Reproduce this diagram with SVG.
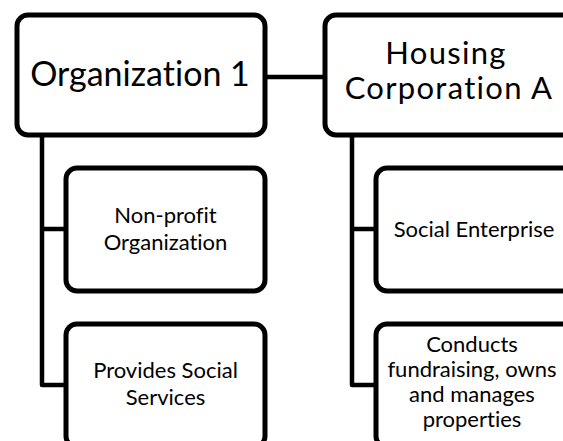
<svg xmlns="http://www.w3.org/2000/svg" width="563" height="441" viewBox="0 0 563 441">
<style>
.box{fill:#fff;stroke:#000;stroke-width:5}
.con{fill:none;stroke:#000;stroke-width:4.5;stroke-linejoin:round}
text{font-family:Lato,"Open Sans",sans-serif;fill:#000;text-anchor:middle;font-variant-ligatures:none}
.t1{font-size:34px}
.t1b{font-size:31px;letter-spacing:1.3px}
.t2{font-size:22px}
</style>
<rect width="563" height="441" fill="#fff"/>
<g id="connectors">
<path class="con" d="M265,77 H325"/>
<path class="con" d="M42,135 V385 H66 M42,229 H66"/>
<path class="con" d="M352,135 V385 H376 M352,229 H376"/>
</g>
<g id="org1">
<rect class="box" x="17" y="15" width="248" height="120" rx="11"/>
<text class="t1" x="140" y="86">Organization 1</text>
</g>
<g id="housingA">
<rect class="box" x="325" y="15" width="248" height="120" rx="11"/>
<text class="t1b"><tspan x="446" y="64">Housing</tspan><tspan x="449" y="99">Corporation A</tspan></text>
</g>
<g id="nonprofit">
<rect class="box" x="66" y="168" width="199" height="123" rx="11"/>
<text class="t2"><tspan x="165.5" y="223">Non-profit</tspan><tspan x="165.5" y="250">Organization</tspan></text>
</g>
<g id="services">
<rect class="box" x="66" y="324" width="199" height="123" rx="11"/>
<text class="t2"><tspan x="165.5" y="378">Provides Social</tspan><tspan x="165.5" y="405">Services</tspan></text>
</g>
<g id="socialent">
<rect class="box" x="376" y="168" width="199" height="123" rx="11"/>
<text class="t2" x="474" y="237">Social Enterprise</text>
</g>
<g id="fundraising">
<rect class="box" x="376" y="324" width="199" height="123" rx="11"/>
<text class="t2"><tspan x="472" y="352">Conducts</tspan><tspan x="472" y="377">fundraising, owns</tspan><tspan x="472" y="402">and manages</tspan><tspan x="472" y="427">properties</tspan></text>
</g>
</svg>
